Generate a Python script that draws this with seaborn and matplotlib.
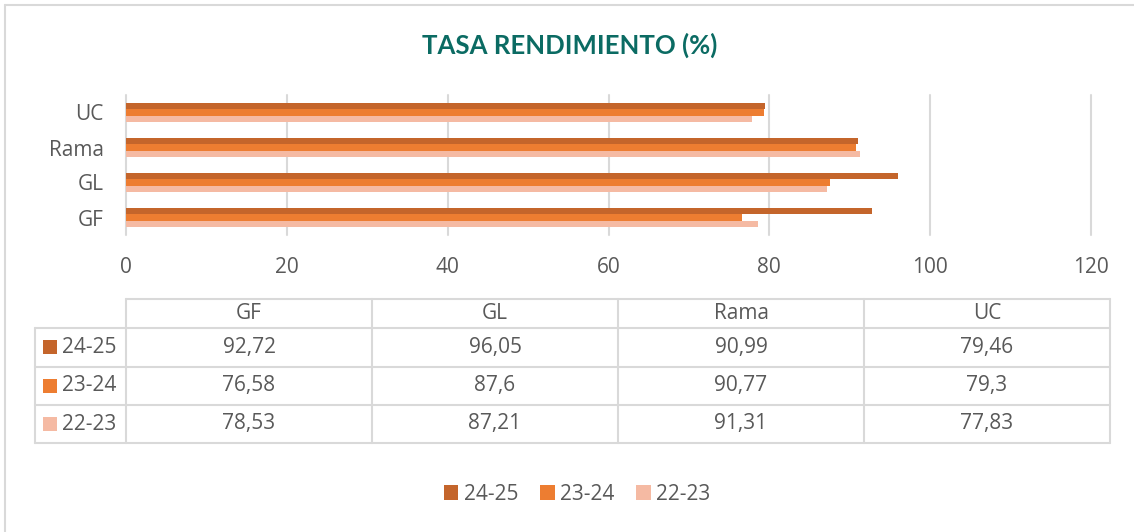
import matplotlib
matplotlib.use("Agg")
import matplotlib.pyplot as plt
from matplotlib.lines import Line2D
from matplotlib.patches import Rectangle
import seaborn as sns
import pandas as pd

# ---- data ----
categories = ["GF", "GL", "Rama", "UC"]
seasons = ["24-25", "23-24", "22-23"]
vals_2425 = [92.72, 96.05, 90.99, 79.46]
vals_2324 = [76.58, 87.6, 90.77, 79.3]
vals_2223 = [78.53, 87.21, 91.31, 77.83]
title = "TASA RENDIMIENTO (%)"
xticks = [0, 20, 40, 60, 80, 100, 120]

colors = ["#C4652B", "#ED7D31", "#F5BAA3"]
text_color = "#595959"
grid_color = "#D9D9D9"

series = [vals_2425, vals_2324, vals_2223]
rows = []
for s, vals in zip(seasons, series):
    for c, v in zip(categories, vals):
        rows.append({"cat": c, "season": s, "value": v})
df = pd.DataFrame(rows)

sns.set_style("white")
plt.rcParams["font.family"] = ["Open Sans", "DejaVu Sans"]
FS = 15

W, H = 1134, 532
fig = plt.figure(figsize=(W / 100, H / 100), dpi=100)

def fx(x):
    return x / W

def fy(y):
    return 1 - y / H

ax = fig.add_axes([fx(126), fy(235), fx(1091) - fx(126), fy(95) - fy(235)])
sns.barplot(data=df, x="value", y="cat", hue="season", order=categories[::-1],
            hue_order=seasons, palette=colors, width=0.55, orient="h",
            saturation=1, linewidth=0, ax=ax)
handles, labels = ax.get_legend_handles_labels()
if ax.get_legend() is not None:
    ax.get_legend().remove()

ax.set_xlim(0, 120)
ax.set_ylim(3.5, -0.5)
ax.set_xticks(xticks)
ax.set_xlabel("")
ax.set_ylabel("")
for sp in ax.spines.values():
    sp.set_visible(False)
ax.grid(axis="x", color=grid_color, linewidth=1.5)
ax.grid(axis="y", visible=False)
ax.set_axisbelow(True)
ax.tick_params(axis="both", length=0, labelsize=FS, labelcolor=text_color)
ax.tick_params(axis="x", pad=16)
ax.tick_params(axis="y", pad=16)
for gl in ax.get_xgridlines():
    gl.set_clip_on(False)

# title
fig.text(fx(570), fy(45), title, ha="center", va="center", fontsize=18.5,
         fontweight="bold", color="#0B6B63", family=["Lato", "DejaVu Sans"])

# outer frame (top and left)
fig.add_artist(Line2D([fx(5), 1], [fy(5), fy(5)], color=grid_color, lw=1.5))
fig.add_artist(Line2D([fx(5), fx(5)], [fy(5), 0], color=grid_color, lw=1.5))

# data table
col_x = [126 + i * (1110 - 126) / len(categories) for i in range(len(categories) + 1)]
row_y = [299, 328, 366.5, 405, 443]
tl = dict(color=grid_color, lw=1.5)
fig.add_artist(Line2D([fx(126), fx(1110)], [fy(row_y[0])] * 2, **tl))
for i in range(1, len(row_y)):
    fig.add_artist(Line2D([fx(35), fx(1110)], [fy(row_y[i])] * 2, **tl))
for x in col_x:
    fig.add_artist(Line2D([fx(x)] * 2, [fy(row_y[0]), fy(row_y[-1])], **tl))
fig.add_artist(Line2D([fx(35)] * 2, [fy(row_y[1]), fy(row_y[-1])], **tl))

for j, c in enumerate(categories):
    cx = (col_x[j] + col_x[j + 1]) / 2
    fig.text(fx(cx), fy((row_y[0] + row_y[1]) / 2), c, ha="center", va="center",
             fontsize=FS, color=text_color)

def fmt(v):
    return f"{v:g}".replace(".", ",")

for i, (s, vals, col) in enumerate(zip(seasons, series, colors)):
    cy = (row_y[i + 1] + row_y[i + 2]) / 2
    fig.add_artist(Rectangle((fx(43), fy(cy + 7)), fx(14), 14 / H, color=col, lw=0))
    fig.text(fx(62), fy(cy), s, ha="left", va="center", fontsize=FS, color=text_color)
    for j, v in enumerate(vals):
        cx = (col_x[j] + col_x[j + 1]) / 2
        fig.text(fx(cx), fy(cy), fmt(v), ha="center", va="center",
                 fontsize=FS, color=text_color)

# legend
fig.legend(handles, labels, loc="center", bbox_to_anchor=(fx(577), fy(494)),
           ncol=3, frameon=False, fontsize=FS, labelcolor=text_color,
           handlelength=0.7, handleheight=0.7, handletextpad=0.25,
           columnspacing=1.05)

fig.savefig("out.png", dpi=100)
